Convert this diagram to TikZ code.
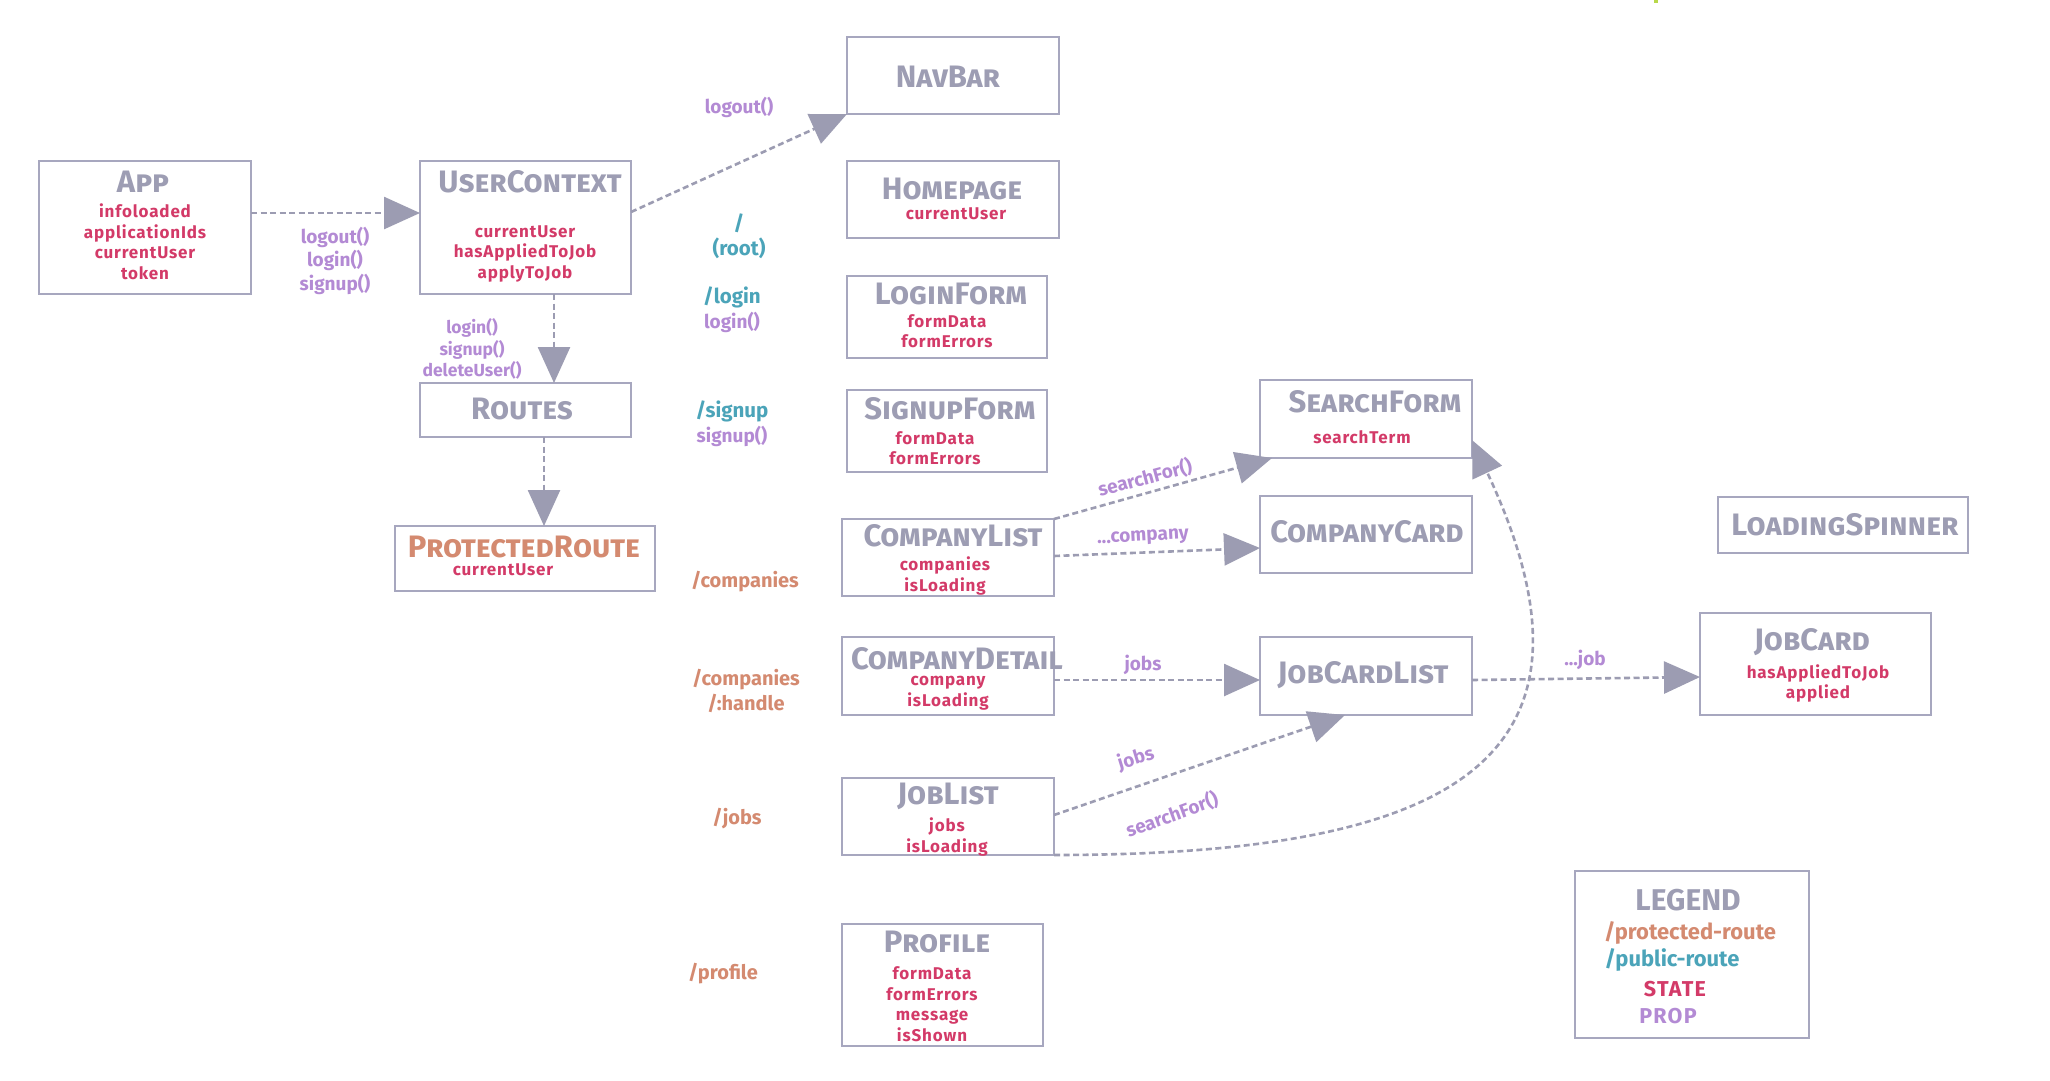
\documentclass[tikz,border=0pt]{standalone}
\usepackage{fontspec}
\setmainfont{Fira Sans}
\usetikzlibrary{arrows.meta}

\definecolor{boxline}{HTML}{A7A7BF}
\definecolor{titlegray}{HTML}{9D9DB3}
\definecolor{edgecol}{HTML}{9C9CB2}
\definecolor{statecol}{HTML}{D33A68}
\definecolor{propcol}{HTML}{B38AD4}
\definecolor{pubcol}{HTML}{4BA4B9}
\definecolor{protcol}{HTML}{D48A70}
\definecolor{markcol}{HTML}{B8D84A}

% component box from its corner coordinates (x1,y1,x2,y2), y downwards
\newcommand\compbox[5]{%
  \node[box, minimum width={#4-#2}, minimum height={#5-#3}]
    (#1) at ({(#2+#4)/2},{(#3+#5)/2}) {};}

\begin{document}
\begin{tikzpicture}[x=1pt, y=-1pt,
  box/.style={draw=boxline, line width=2pt, inner sep=0pt, outer sep=0pt},
  title/.style={text=titlegray, font=\fontsize{31}{33}\selectfont\bfseries, inner sep=0pt},
  state/.style={text=statecol, font=\fontsize{17}{20.5}\selectfont\bfseries\addfontfeature{LetterSpace=5},
    align=center, inner sep=0pt},
  prop/.style={text=propcol, font=\fontsize{19}{23.5}\selectfont\bfseries, align=center, inner sep=0pt},
  pubroute/.style={text=pubcol, font=\fontsize{20.5}{25}\selectfont\bfseries, align=center, inner sep=0pt},
  protroute/.style={text=protcol, font=\fontsize{20}{25}\selectfont\bfseries, align=center, inner sep=0pt},
  flow/.style={draw=edgecol, line width=2.6pt, dash pattern=on 6pt off 3.5pt,
    -{Triangle[length=36pt,width=32pt]}}
]
\useasboundingbox (0,0) rectangle (2050,1080);
\fill[white] (0,0) rectangle (2050,1080);
\fill[markcol] (1654,0) rectangle (1658,3);

% ---- boxes ----
\compbox{app}{39}{161}{251}{294}
\compbox{uc}{420}{161}{631}{294}
\compbox{routes}{420}{383}{631}{437}
\compbox{pr}{395}{526}{655}{591}
\compbox{navbar}{847}{37}{1059}{114}
\compbox{home}{847}{161}{1059}{238}
\compbox{login}{847}{276}{1047}{358}
\compbox{signup}{847}{390}{1047}{472}
\compbox{cl}{842}{519}{1054}{596}
\compbox{cd}{842}{637}{1054}{715}
\compbox{jl}{842}{778}{1054}{855}
\compbox{profile}{842}{924}{1043}{1046}
\compbox{sf}{1260}{380}{1472}{458}
\compbox{cc}{1260}{496}{1472}{573}
\compbox{jcl}{1260}{637}{1472}{715}
\compbox{ls}{1718}{497}{1968}{553}
\compbox{jc}{1700}{613}{1931}{715}
\compbox{legend}{1575}{871}{1809}{1038}

% ---- titles and state ----
\node[title] (t-app) at (143,182) {\textsc{App}};
\node[state] (s-app) at (145,241.5) {infoloaded\\applicationIds\\currentUser\\token};
\node[title] (t-uc) at (530,182) {\textsc{UserContext}};
\node[state] (s-uc) at (525,253.5) {currentUser\\hasAppliedToJob\\applyToJob};
\node[title] (t-routes) at (522,409) {\textsc{Routes}};
\node[title, text=protcol] (t-pr) at (524,547) {\textsc{ProtectedRoute}};
\node[state] (s-pr) at (503,570) {currentUser};
\node[title] (t-navbar) at (948,77) {\textsc{NavBar}};
\node[title] (t-home) at (952,189) {\textsc{Homepage}};
\node[state] (s-home) at (956,214) {currentUser};
\node[title] (t-login) at (951,294) {\textsc{LoginForm}};
\node[state] (s-login) at (947,331) {formData\\formErrors};
\node[title] (t-signup) at (950,409) {\textsc{SignupForm}};
\node[state] (s-signup) at (935,448) {formData\\formErrors};
\node[title] (t-cl) at (953,536) {\textsc{CompanyList}};
\node[state] (s-cl) at (945,576) {companies\\isLoading};
\node[title] (t-cd) at (957,659) {\textsc{CompanyDetail}};
\node[state] (s-cd) at (948,693) {company\\isLoading};
\node[title] (t-jl) at (948,796) {\textsc{JobList}};
\node[state] (s-jl) at (947,837) {jobs\\isLoading};
\node[title] (t-profile) at (937,942) {\textsc{Profile}};
\node[state] (s-profile) at (932,1004) {formData\\formErrors\\message\\isShown};
\node[title] (t-sf) at (1375,402) {\textsc{SearchForm}};
\node[state] (s-sf) at (1362,437) {searchTerm};
\node[title] (t-cc) at (1367,532) {\textsc{CompanyCard}};
\node[title] (t-jcl) at (1363,675) {\textsc{JobCardList}};
\node[title] (t-ls) at (1845,525) {\textsc{LoadingSpinner}};
\node[title] (t-jc) at (1812,642) {\textsc{JobCard}};
\node[state] (s-jc) at (1818,683.5) {hasAppliedToJob\\applied};

% ---- routes ----
\node[pubroute] (r-root) at (739,236.5) {/\\(root)};
\node[pubroute] (r-login) at (732,297) {/login};
\node[prop] (p-login) at (732,322) {login()};
\node[pubroute] (r-signup) at (732,411) {/signup};
\node[prop] (p-signup) at (732,436) {signup()};
\node[protroute] (r-companies) at (745,582) {/companies};
\node[protroute] (r-handle) at (746,690.5) {/companies\\/:handle};
\node[protroute] (r-jobs) at (737,819) {/jobs};
\node[protroute] (r-profile) at (723,974) {/profile};

% ---- connectors ----
\draw[flow] ([yshift=14.5pt]app.east) -- ([yshift=14.5pt]uc.west);
\draw[flow] ([yshift=15.5pt]uc.east) -- (navbar.south west);
\draw[flow] ([xshift=28.5pt]uc.south) -- ([xshift=28.5pt]routes.north);
\draw[flow] ([xshift=18.5pt]routes.south) -- ([xshift=19pt]pr.north);
\draw[flow] (cl.north east) -- ([xshift=12pt]sf.south west);
\draw[flow] ([yshift=1.5pt]cl.east) -- ([yshift=-13.5pt]cc.west);
\draw[flow] ([yshift=-4pt]cd.east) -- ([yshift=-4pt]jcl.west);
\draw[flow] ([yshift=-4pt]jcl.east) -- ([yshift=-13pt]jc.west);
\draw[flow] ([yshift=1.5pt]jl.east) -- ([xshift=-21pt]jcl.south);
\draw[flow] (jl.south east) .. controls +(400,0) and +(150,320) .. ([yshift=-21pt]sf.east);

% ---- connector labels ----
\node[prop] (l-app) at (335,260.5) {logout()\\login()\\signup()};
\node[prop, font=\fontsize{17.5}{21.5}\selectfont\bfseries] (l-uc) at (472,349) {login()\\signup()\\deleteUser()};
\node[prop] (l-nav) at (739,107) {logout()};
\node[prop, rotate=15] (l-sf) at (1145,478) {searchFor()};
\node[prop, rotate=3] (l-cc) at (1143,538) {...company};
\node[prop] (l-jcl) at (1143,665) {jobs};
\node[prop] (l-jc) at (1585,660) {...job};
\node[prop, rotate=17] (l-jobs) at (1136,759) {jobs};
\node[prop, rotate=20] (l-search) at (1172,815) {searchFor()};

% ---- legend ----
\node[title, font=\fontsize{30}{32}\selectfont\bfseries] (lg-title) at (1688,900) {LEGEND};
\node[protroute, font=\fontsize{22}{22}\selectfont\bfseries] (lg-prot) at (1690,933) {/protected-route};
\node[pubroute, font=\fontsize{22}{22}\selectfont\bfseries] (lg-pub) at (1672,960) {/public-route};
\node[state, font=\fontsize{21.5}{21.5}\selectfont\bfseries\addfontfeature{LetterSpace=6}] (lg-state) at (1675,989) {STATE};
\node[prop, font=\fontsize{21.5}{21.5}\selectfont\bfseries\addfontfeature{LetterSpace=6}] (lg-prop) at (1668,1016) {PROP};
\end{tikzpicture}
\end{document}
